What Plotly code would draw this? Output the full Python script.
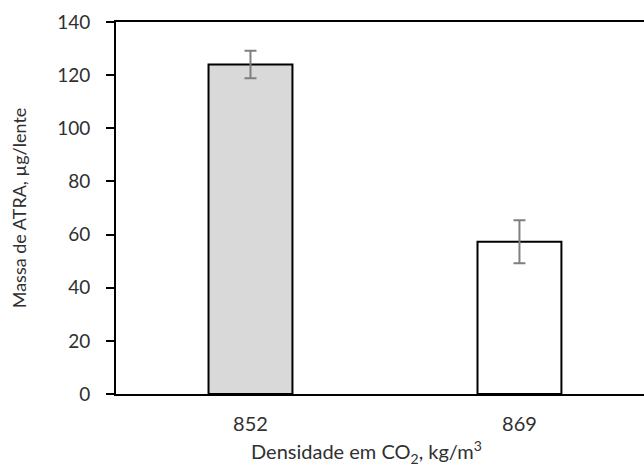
import plotly.graph_objects as go

categories = ["852", "869"]
values = [124.0, 57.3]
errors = [5.2, 8.1]
bar_colors = ["#d9d9d9", "#ffffff"]
y_ticks = [0, 20, 40, 60, 80, 100, 120, 140]
x_title = "Densidade em CO<sub>2</sub>, kg/m<sup>3</sup>"
y_title = "Massa de ATRA, µg/lente"

fig = go.Figure()
fig.add_trace(go.Bar(
    x=categories, y=values,
    width=0.312,
    marker=dict(color=bar_colors, line=dict(color="#000000", width=2)),
    error_y=dict(type="data", array=errors, color="#7f7f7f", thickness=2, width=6),
))

font_family = "Lato, Open Sans, sans-serif"
text_color = "#303030"
fig.update_layout(
    width=644, height=469,
    margin=dict(l=116, r=0, t=22, b=75),
    paper_bgcolor="white", plot_bgcolor="white",
    showlegend=False,
    font=dict(family=font_family, color=text_color),
)
fig.update_xaxes(
    type="category",
    range=[-0.5, 1.463],
    showline=True, linecolor="#000000", linewidth=2, mirror=True,
    ticks="", showgrid=False,
    tickfont=dict(size=20, color=text_color),
    ticklabelstandoff=11,
)
fig.update_yaxes(
    range=[0, 140],
    tickvals=y_ticks,
    showline=True, linecolor="#000000", linewidth=2,
    ticks="outside", ticklen=8, tickwidth=2, tickcolor="#000000",
    showgrid=False, zeroline=False,
    tickfont=dict(size=19, color=text_color),
    ticklabelstandoff=12,
    title=dict(text=y_title, font=dict(size=18, color=text_color), standoff=26),
)
fig.add_annotation(
    text=x_title, xref="paper", yref="paper",
    x=(366 - 116) / 528, y=-(435 - 394) / 372,
    xanchor="center", yanchor="top", showarrow=False,
    font=dict(size=20, color=text_color),
)

fig.write_html("out.html")
